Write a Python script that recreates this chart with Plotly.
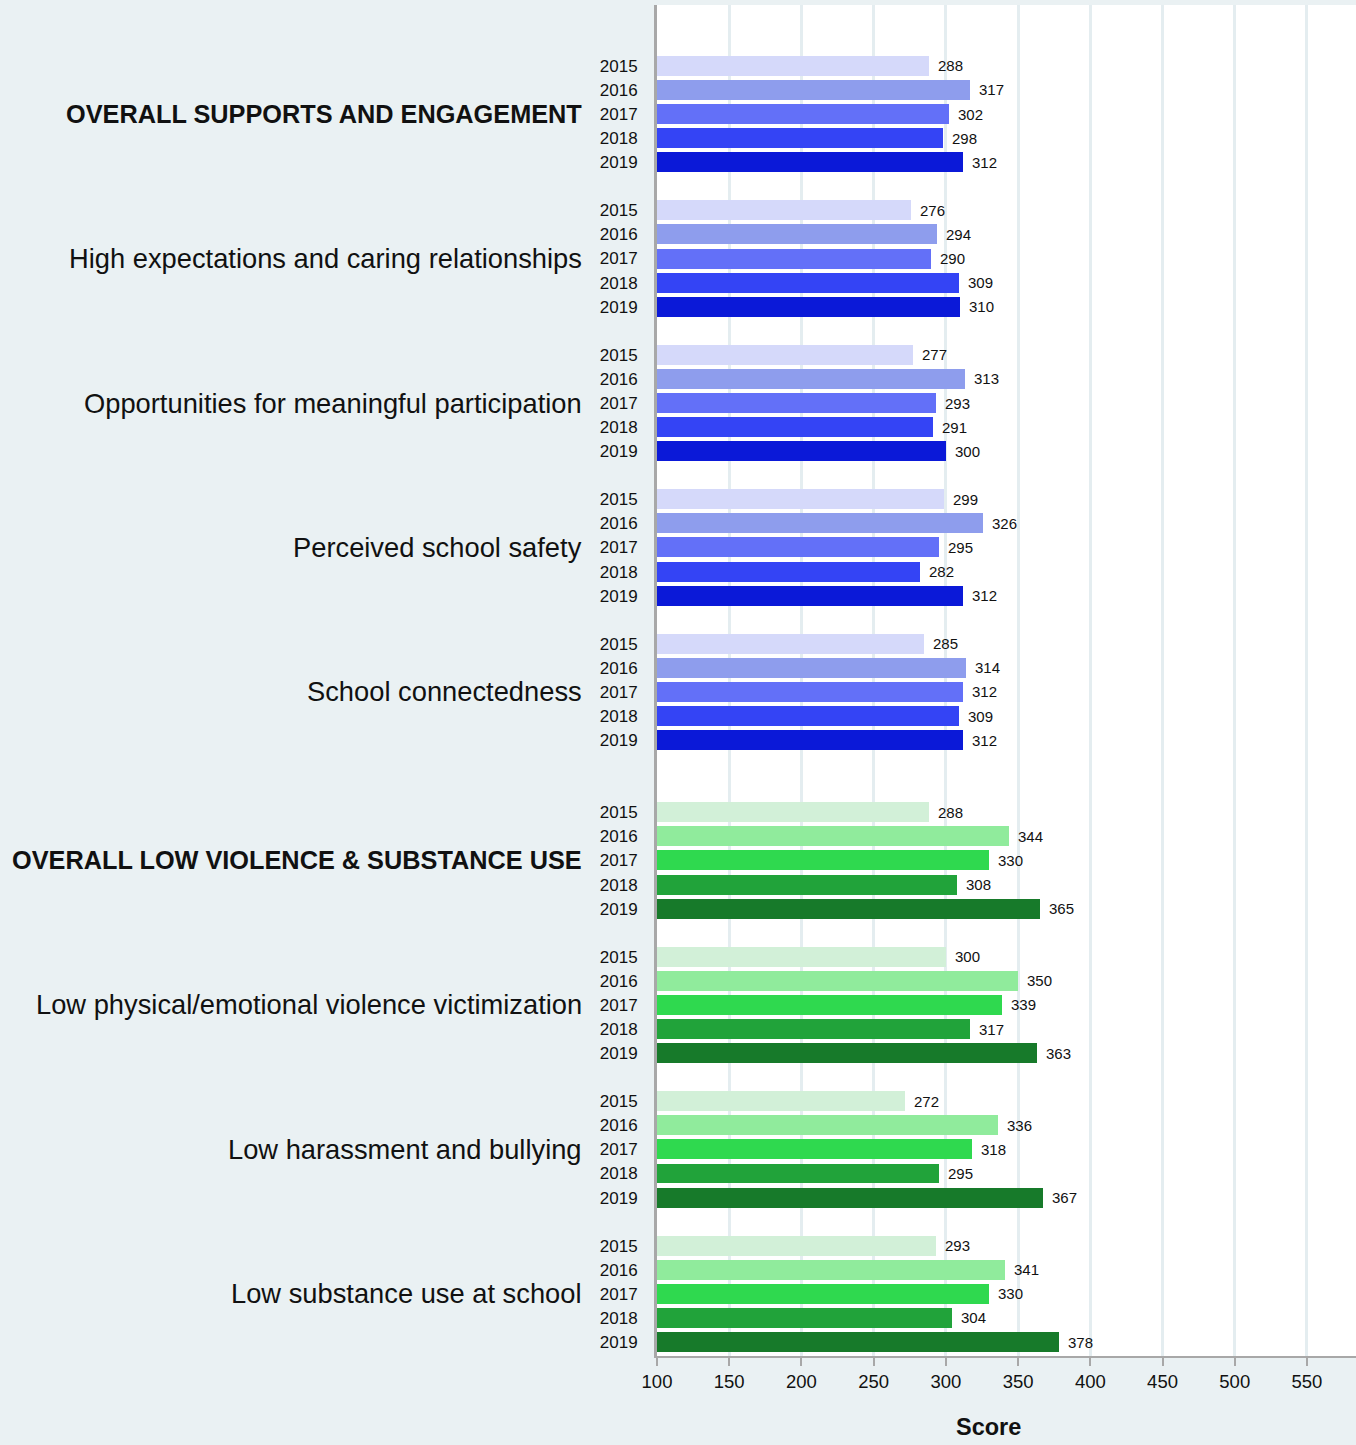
import plotly.graph_objects as go

years = ["2015", "2016", "2017", "2018", "2019"]
groups = [
    "OVERALL SUPPORTS AND ENGAGEMENT",
    "High expectations and caring relationships",
    "Opportunities for meaningful participation",
    "Perceived school safety",
    "School connectedness",
    "OVERALL LOW VIOLENCE & SUBSTANCE USE",
    "Low physical/emotional violence victimization",
    "Low harassment and bullying",
    "Low substance use at school",
]
bold_groups = ["OVERALL SUPPORTS AND ENGAGEMENT", "OVERALL LOW VIOLENCE & SUBSTANCE USE"]
green_groups = groups[5:]

overall_supports = [288, 317, 302, 298, 312]
high_expectations = [276, 294, 290, 309, 310]
meaningful_participation = [277, 313, 293, 291, 300]
school_safety = [299, 326, 295, 282, 312]
connectedness = [285, 314, 312, 309, 312]
overall_low_violence = [288, 344, 330, 308, 365]
low_victimization = [300, 350, 339, 317, 363]
low_harassment = [272, 336, 318, 295, 367]
low_substance = [293, 341, 330, 304, 378]
series = [overall_supports, high_expectations, meaningful_participation, school_safety,
          connectedness, overall_low_violence, low_victimization, low_harassment, low_substance]

x_ticks = [100, 150, 200, 250, 300, 350, 400, 450, 500, 550]

blues = ["#d5d9fa", "#8e9ded", "#6370f8", "#3444f5", "#0b19d8"]
greens = ["#d2f0d8", "#90eb9c", "#2fd94f", "#21a33a", "#177a2a"]

W, H = 1356, 1445
ML, MR, MT, MB = 657, 0, 5, 89

fig = go.Figure()
tickvals, ticktext = [], []
annotations = []
pos = 0
for gi, (g, vals) in enumerate(zip(groups, series)):
    if gi == 5:
        pos += 1
    ys = [pos + j for j in range(len(vals))]
    cols = greens if g in green_groups else blues
    fig.add_trace(go.Bar(
        x=vals, y=ys, orientation="h", width=0.83,
        marker=dict(color=cols, line=dict(width=0)),
        showlegend=False, hoverinfo="x",
    ))
    tickvals += ys
    ticktext += years
    for v, yy in zip(vals, ys):
        annotations.append(dict(x=v, y=yy, xref="x", yref="y", text=str(v),
                                showarrow=False, xanchor="left", xshift=7,
                                font=dict(size=15, color="#111")))
    if g in bold_groups:
        label, fsize = f"<b>{g}</b>", 25.3
    else:
        label, fsize = g, 27.3
    annotations.append(dict(x=-0.105, y=ys[2], xref="paper", yref="y", text=label,
                            showarrow=False, xanchor="right", yanchor="middle",
                            font=dict(size=fsize, color="#111")))
    pos += len(vals) + 1

last = pos - 2

plot_w = W - ML - MR
annotations.append(dict(x=(988 - ML) / plot_w, y=-(1427 - (H - MB)) / (H - MT - MB),
                        xref="paper", yref="paper", text="<b>Score</b>", showarrow=False,
                        xanchor="center", yanchor="middle", font=dict(size=23.5, color="#111")))

fig.update_layout(
    width=W, height=H,
    margin=dict(l=ML, r=MR, t=MT, b=MB, pad=0),
    paper_bgcolor="#eaf1f3", plot_bgcolor="#ffffff",
    font=dict(family="Liberation Sans, Arial, sans-serif", color="#111"),
    bargap=0,
    annotations=annotations,
)
fig.update_xaxes(
    range=[100, 100 + plot_w / 1.4444], tickvals=x_ticks,
    showgrid=True, gridcolor="#e4edf0", gridwidth=3,
    zeroline=False, showline=True, linecolor="#a8a8a8", linewidth=2,
    ticks="outside", ticklen=8, tickwidth=2, tickcolor="#a8a8a8",
    tickfont=dict(size=18.5, color="#111"),
)
fig.update_yaxes(
    range=[last + 0.58, -2.53], tickvals=tickvals, ticktext=ticktext,
    showgrid=False, zeroline=False, showline=True, linecolor="#a8a8a8", linewidth=3,
    ticks="", ticklabelstandoff=13,
    tickfont=dict(size=17, color="#111"),
)

fig.write_html("out.html", config={"displayModeBar": False},
               post_script="document.body.style.margin='0';")
